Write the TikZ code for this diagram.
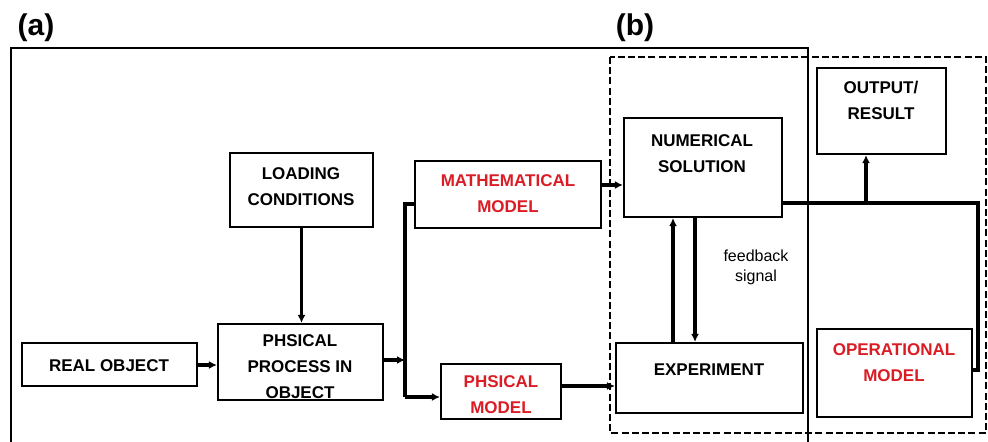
\documentclass[tikz,border=0pt]{standalone}
\usepackage{fontspec}
\setmainfont{Liberation Sans}
\usetikzlibrary{fit,arrows.meta}
\definecolor{redtxt}{RGB}{218,28,36}
\tikzset{
  box/.style={draw=black, line width=1.1pt, inner sep=0pt},
  lbl/.style={font=\bfseries\fontsize{8.5}{13}\selectfont, align=center, inner sep=0pt},
  rlbl/.style={lbl, text=redtxt},
  conn/.style={line width=1.6pt, -{Latex[length=4pt,width=4pt]}},
  plain/.style={line width=1.6pt},
  frame/.style={line width=0.75pt},
  dbox/.style={line width=0.75pt, dash pattern=on 3.5pt off 1.6pt},
}
\begin{document}
\begin{tikzpicture}[x=0.5pt,y=-0.5pt]
\useasboundingbox (0,0) rectangle (988,442);
% frames
\draw[frame] (11,442) -- (11,48) -- (808,48) -- (808,442);
\draw[dbox] (610,57) rectangle (986,433);
\node[font=\bfseries\fontsize{15}{18}\selectfont, inner sep=0pt] (la) at (36,28) {(a)};
\node[font=\bfseries\fontsize{15}{18}\selectfont, inner sep=0pt] (lb) at (635,28) {(b)};
% boxes
\node[box, fit={(22,343) (197,386)}] (real) {};
\node[box, fit={(218,324) (383,400)}] (proc) {};
\node[box, fit={(230,153) (373,227)}] (load) {};
\node[box, fit={(415,161) (601,228)}] (math) {};
\node[box, fit={(441,364) (561,419)}] (phm) {};
\node[box, fit={(624,118) (782,217)}] (num) {};
\node[box, fit={(616,343) (803,413)}] (exp) {};
\node[box, fit={(817,68) (946,154)}] (out) {};
\node[box, fit={(817,329) (972,417)}] (op) {};
% texts
\node[lbl] (realT) at (109,366) {REAL OBJECT};
\node[lbl] (procT) at (300,367) {PHSICAL\\PROCESS IN\\OBJECT};
\node[lbl] (loadT) at (301,187) {LOADING\\CONDITIONS};
\node[rlbl] (mathT) at (508,194) {MATHEMATICAL\\MODEL};
\node[rlbl] (phmT) at (501,395) {PHSICAL\\MODEL};
\node[lbl] (numT) at (702,154) {NUMERICAL\\SOLUTION};
\node[lbl] (expT) at (709,370) {EXPERIMENT};
\node[lbl] (outT) at (881,100) {OUTPUT/\\RESULT};
\node[rlbl] (opT) at (894,363) {OPERATIONAL\\MODEL};
\node[font=\fontsize{8}{10}\selectfont, align=center, inner sep=0pt] (fb) at (756,267) {feedback\\signal};
% junction coordinates
\coordinate (bus1) at (405,204);
\coordinate (bus2) at (405,397);
\coordinate (busm) at (405,360);
\coordinate (r1) at (978,203);
\coordinate (r2) at (978,370);
\coordinate (br) at (866,203);
% connectors
\draw[conn] (real.east |- 0,365) -- (proc.west |- 0,365);
\draw[conn] (load.south) -- (load.south |- proc.north);
\draw[conn] (proc.east |- busm) -- (busm);
\draw[plain] (math.west |- bus1) -- (bus1) -- (bus2);
\draw[conn] (bus2) -- (phm.west |- bus2);
\draw[conn] (math.east |- 0,185) -- (num.west |- 0,185);
\draw[conn] (phm.east |- 0,386) -- (exp.west |- 0,386);
\draw[conn] (exp.north -| 673,0) -- (num.south -| 673,0);
\draw[conn] (num.south -| 695,0) -- (exp.north -| 695,0);
\draw[plain] (num.east |- r1) -- (r1) -- (r2) -- (op.east |- r2);
\draw[conn] (br) -- (out.south -| br);
\end{tikzpicture}
\end{document}
